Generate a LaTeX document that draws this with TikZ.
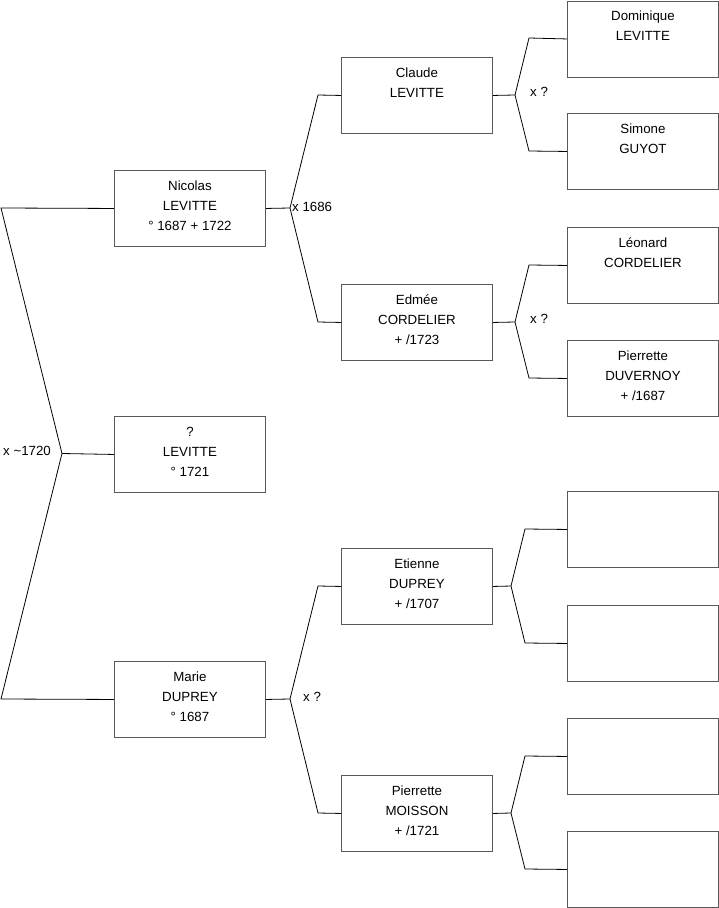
\documentclass[tikz,border=0pt]{standalone}
\usepackage{fontspec}
\setmainfont{Liberation Sans}
\definecolor{boxgray}{gray}{0.35}
\begin{document}
\begin{tikzpicture}[x=1pt,y=-1pt,
  box/.style={draw=boxgray, line width=0.9pt, minimum width=151pt, minimum height=76pt, anchor=north west, inner sep=0pt},
  txt/.style={anchor=north, inner sep=0pt, align=center, font=\fontsize{13.3}{20}\selectfont},
  lbl/.style={anchor=west, inner sep=0pt, font=\fontsize{13.3}{15}\selectfont},
  conn/.style={draw=black, line width=0.8pt}]
\useasboundingbox (0,0) rectangle (719,908);
% left column
\node[box] (nic) at (114,170) {};
\node[txt] (nict) at ([yshift=-11pt]nic.north) {Nicolas\\LEVITTE\\° 1687 + 1722};
\node[box] (q) at (114,416) {};
\node[txt] (qt) at ([yshift=-11pt]q.north) {?\\LEVITTE\\° 1721};
\node[box] (mar) at (114,661) {};
\node[txt] (mart) at ([yshift=-11pt]mar.north) {Marie\\DUPREY\\° 1687};
% middle column
\node[box] (cla) at (341,57) {};
\node[txt] (clat) at ([yshift=-11pt]cla.north) {Claude\\LEVITTE};
\node[box] (edm) at (341,284) {};
\node[txt] (edmt) at ([yshift=-11pt]edm.north) {Edmée\\CORDELIER\\+ /1723};
\node[box] (eti) at (341,548) {};
\node[txt] (etit) at ([yshift=-11pt]eti.north) {Etienne\\DUPREY\\+ /1707};
\node[box] (pmo) at (341,775) {};
\node[txt] (pmot) at ([yshift=-11pt]pmo.north) {Pierrette\\MOISSON\\+ /1721};
% right column
\node[box] (dom) at (567,0.5) {};
\node[txt] (domt) at ([yshift=-10.5pt]dom.north) {Dominique\\LEVITTE};
\node[box] (sim) at (567,113) {};
\node[txt] (simt) at ([yshift=-11pt]sim.north) {Simone\\GUYOT};
\node[box] (leo) at (567,227) {};
\node[txt] (leot) at ([yshift=-11pt]leo.north) {Léonard\\CORDELIER};
\node[box] (pdu) at (567,340) {};
\node[txt] (pdut) at ([yshift=-11pt]pdu.north) {Pierrette\\DUVERNOY\\+ /1687};
\node[box] (e1) at (567,491) {};
\node[box] (e2) at (567,605) {};
\node[box] (e3) at (567,718) {};
\node[box] (e4) at (567,831) {};
% junction coordinates
\coordinate (J0) at (62,453.5);
\coordinate (a0) at (1,208);
\coordinate (b0) at (1,699);
\coordinate (J1) at (290,208);
\coordinate (a1) at (318,95);
\coordinate (b1) at (318,322);
\coordinate (J2) at (515,95);
\coordinate (a2) at (529,38);
\coordinate (b2) at (529,151);
\coordinate (J3) at (515,322);
\coordinate (a3) at (529,265);
\coordinate (b3) at (529,378);
\coordinate (J4) at (290,699);
\coordinate (a4) at (318,586);
\coordinate (b4) at (318,813);
\coordinate (J5) at (511,586);
\coordinate (a5) at (525,529);
\coordinate (b5) at (525,643);
\coordinate (J6) at (511,813);
\coordinate (a6) at (525,756);
\coordinate (b6) at (525,869);
% connectors
\draw[conn] (nic.west) -- (a0) -- (J0) -- (b0) -- (mar.west);
\draw[conn] (J0) -- (q.west);
\draw[conn] (nic.east) -- (J1);
\draw[conn] (cla.west) -- (a1) -- (J1) -- (b1) -- (edm.west);
\draw[conn] (cla.east) -- (J2);
\draw[conn] (dom.west) -- (a2) -- (J2) -- (b2) -- (sim.west);
\draw[conn] (edm.east) -- (J3);
\draw[conn] (leo.west) -- (a3) -- (J3) -- (b3) -- (pdu.west);
\draw[conn] (mar.east) -- (J4);
\draw[conn] (eti.west) -- (a4) -- (J4) -- (b4) -- (pmo.west);
\draw[conn] (eti.east) -- (J5);
\draw[conn] (e1.west) -- (a5) -- (J5) -- (b5) -- (e2.west);
\draw[conn] (pmo.east) -- (J6);
\draw[conn] (e3.west) -- (a6) -- (J6) -- (b6) -- (e4.west);
% marriage labels
\node[lbl] (m0) at (3,451) {x \textasciitilde1720};
\node[lbl] (m1) at (292,207) {x 1686};
\node[lbl] (m2) at (530,92) {x ?};
\node[lbl] (m3) at (530,319) {x ?};
\node[lbl] (m4) at (303,697) {x ?};
\end{tikzpicture}
\end{document}
